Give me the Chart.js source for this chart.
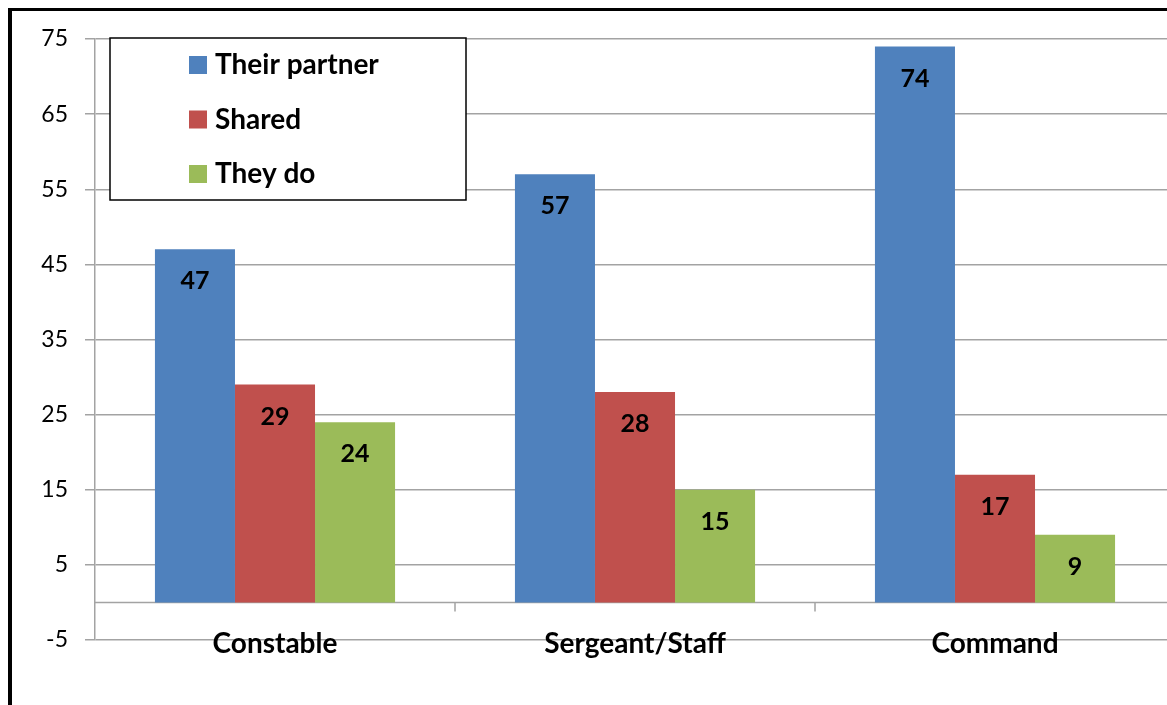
<!DOCTYPE html>
<html>
<head>
<meta charset="utf-8">
<script src="https://cdn.jsdelivr.net/npm/chart.js@4"></script>
<style>
    html, body { margin: 0; padding: 0; background: #fff; overflow: hidden; }
    #wrap { position: relative; width: 1167px; height: 705px; overflow: hidden; }
    #frame { position: absolute; left: 8px; top: 8px; width: 2000px; height: 2000px;
             border-left: 4px solid #000; border-top: 3px solid #000; pointer-events: none; }
</style>
</head>
<body>
<div id="wrap">
    <canvas id="rank_chart" width="1180" height="705"></canvas>
    <div id="frame"></div>
</div>
<script>
// chart values
const categories = ["Constable", "Sergeant/Staff", "Command"];
const partnerValues = [47, 57, 74];
const sharedValues = [29, 28, 17];
const theyDoValues = [24, 15, 9];
const yTicks = [-5, 5, 15, 25, 35, 45, 55, 65, 75];

const gridColor = '#a3a3a3';
const fontName = 'Lato, "Open Sans", sans-serif';

// labels inside the bars, near the top
const valueLabels = {
    id: 'valueLabels',
    afterDatasetsDraw(chart) {
        let ctx = chart.ctx;
        ctx.save();
        ctx.font = 'bold 25px ' + fontName;
        ctx.fillStyle = '#000';
        ctx.textAlign = 'center';
        ctx.textBaseline = 'middle';
        chart.data.datasets.forEach(function (ds, i) {
            chart.getDatasetMeta(i).data.forEach(function (bar, j) {
                ctx.fillText(String(ds.data[j]), bar.x, bar.y + 32);
            });
        });
        ctx.restore();
    }
};

// zero line with the category tick marks
const zeroAxis = {
    id: 'zeroAxis',
    beforeDatasetsDraw(chart) {
        let ctx = chart.ctx;
        let x = chart.scales.x;
        let y0 = chart.scales.y.getPixelForValue(0);
        let area = chart.chartArea;
        ctx.save();
        ctx.strokeStyle = gridColor;
        ctx.lineWidth = 1.5;
        ctx.beginPath();
        ctx.moveTo(area.left, y0);
        ctx.lineTo(area.right, y0);
        let half = (x.getPixelForValue(1) - x.getPixelForValue(0)) / 2;
        for (let i = 0; i < categories.length; i++) {
            let bx = x.getPixelForValue(i) + half;
            ctx.moveTo(bx, y0);
            ctx.lineTo(bx, y0 + 9);
        }
        ctx.stroke();
        ctx.restore();
    },
    // category names sit on top of the -5 gridline, so draw them here
    afterDraw(chart) {
        let ctx = chart.ctx;
        let x = chart.scales.x;
        ctx.save();
        ctx.font = 'bold 28px ' + fontName;
        ctx.fillStyle = '#000';
        ctx.textAlign = 'center';
        ctx.textBaseline = 'middle';
        chart.data.labels.forEach(function (lbl, i) {
            ctx.fillText(lbl, x.getPixelForValue(i), chart.chartArea.bottom + 4);
        });
        ctx.restore();
    }
};

// boxed legend in the upper left
const boxLegend = {
    id: 'boxLegend',
    afterDraw(chart) {
        let ctx = chart.ctx;
        ctx.save();
        ctx.fillStyle = '#fff';
        ctx.fillRect(110, 38, 356, 162);
        ctx.strokeStyle = '#000';
        ctx.lineWidth = 1.5;
        ctx.strokeRect(110, 38, 356, 162);
        ctx.font = 'bold 28px ' + fontName;
        ctx.textBaseline = 'middle';
        chart.data.datasets.forEach(function (ds, i) {
            let cy = 65 + i * 54.5;
            ctx.fillStyle = ds.backgroundColor;
            ctx.fillRect(189, cy - 9, 18, 18);
            ctx.fillStyle = '#000';
            ctx.fillText(ds.label, 215, cy);
        });
        ctx.restore();
    }
};

let ctx = document.getElementById("rank_chart").getContext('2d');
const rankChart = new Chart(ctx, {
    type: 'bar',
    data: {
        labels: categories,
        datasets: [
            { label: 'Their partner', data: partnerValues, backgroundColor: '#4F81BD' },
            { label: 'Shared', data: sharedValues, backgroundColor: '#C0504D' },
            { label: 'They do', data: theyDoValues, backgroundColor: '#9BBB59' }
        ]
    },
    options: {
        responsive: false,
        animation: false,
        layout: { padding: { top: 39, right: 5, left: 0, bottom: 0 } },
        datasets: {
            bar: { categoryPercentage: 0.667, barPercentage: 1.0 }
        },
        plugins: {
            legend: { display: false },
            tooltip: { enabled: false }
        },
        scales: {
            x: {
                grid: { display: false, drawTicks: false },
                border: { display: false },
                ticks: { display: false },
                afterFit(scale) { scale.height = 65; }
            },
            y: {
                min: -5,
                max: 75,
                afterBuildTicks(scale) {
                    scale.ticks = yTicks.map(function (v) { return { value: v }; });
                },
                grid: { color: gridColor, lineWidth: 1.5, tickLength: 10 },
                border: { color: gridColor, width: 1.5 },
                ticks: {
                    color: '#000',
                    padding: 17,
                    font: { family: fontName, size: 23 }
                },
                afterFit(scale) { scale.width = 95; }
            }
        }
    },
    plugins: [zeroAxis, valueLabels, boxLegend]
});
</script>
</body>
</html>
